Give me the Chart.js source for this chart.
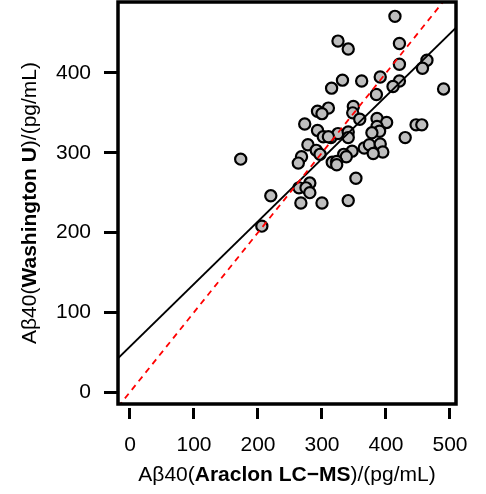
<!DOCTYPE html>
<html lang="en">
  <head>
    <meta charset="UTF-8" />
    <title>Abeta40 Araclon vs Washington U</title>
    <script src="https://cdn.jsdelivr.net/npm/chart.js@4/dist/chart.umd.min.js"></script>
    <style>
      body { margin: 0; background: #ffffff; }
      canvas { display: block; }
    </style>
  </head>
  <body>
    <canvas id="myChart" width="486" height="494"></canvas>
    <script>
      // Araclon LC-MS (x) vs Washington U (y), pg/mL
      var araclon = [
        414, 325, 341, 421, 421, 464, 457, 332, 362, 391,
        315, 421, 411, 385, 490, 310, 293, 300, 349, 348,
        359, 273, 386, 401, 386, 390, 378, 447, 456, 293,
        302, 314, 325, 341, 341, 430, 278, 291, 297, 268,
        263, 366, 374, 391, 395, 380, 347, 334, 338, 316,
        323, 323, 173, 353, 281, 264, 275, 281, 220, 267,
        300, 341, 206, 310
      ];
      var washU = [
        471, 440, 430, 437, 411, 416, 406, 391, 390, 395,
        381, 390, 383, 373, 380, 356, 352, 349, 358, 350,
        342, 336, 343, 338, 333, 327, 325, 335, 335, 328,
        320, 319, 324, 326, 319, 319, 310, 303, 298, 295,
        287, 306, 310, 311, 301, 299, 302, 298, 295, 288,
        289, 285, 292, 268, 262, 256, 256, 250, 246, 237,
        237, 240, 208, 320
      ];
      var xTicks = [0, 100, 200, 300, 400, 500];
      var yTicks = [0, 100, 200, 300, 400];
      // fitted line y = a + b*x, and the identity line
      var fitIntercept = 57;
      var fitSlope = 0.785;

      var xMin = -18.75, xMax = 509.4;
      var yMin = -15, yMax = 489;

      var points = araclon.map(function (v, i) { return { x: v, y: washU[i] }; });
      var fitLine = [xMin, xMax].map(function (v) { return { x: v, y: fitIntercept + fitSlope * v }; });
      var idLine = [xMin, xMax].map(function (v) { return { x: v, y: v }; });

      var FONT = "'Liberation Sans', Arial, sans-serif";
      Chart.defaults.font.family = FONT;
      Chart.defaults.font.size = 21;
      Chart.defaults.color = "#000000";

      // draws the box round the plot and the two axis titles (with bold part)
      var frame = {
        id: "frame",
        afterDraw: function (chart) {
          var c = chart.ctx, a = chart.chartArea;
          c.save();
          c.strokeStyle = "#000";
          c.lineWidth = 3.5;
          c.strokeRect(a.left, a.top, a.right - a.left, a.bottom - a.top);

          function mixed(parts, cx, cy) {
            var w = 0;
            parts.forEach(function (p) {
              c.font = (p[1] ? "bold " : "") + "21px " + FONT;
              w += c.measureText(p[0]).width;
            });
            var x = cx - w / 2;
            parts.forEach(function (p) {
              c.font = (p[1] ? "bold " : "") + "21px " + FONT;
              c.fillText(p[0], x, cy);
              x += c.measureText(p[0]).width;
            });
          }
          c.fillStyle = "#000";
          c.textBaseline = "alphabetic";
          mixed([["A\u03b240(", false], ["Araclon LC\u2212MS", true], [")/(pg/mL)", false]], (a.left + a.right) / 2, 481);
          c.translate(35.5, (a.top + a.bottom) / 2);
          c.rotate(-Math.PI / 2);
          mixed([["A\u03b240(", false], ["Washington U", true], [")/(pg/mL)", false]], 0, 0);
          c.restore();
        },
      };

      new Chart(document.getElementById("myChart"), {
        type: "scatter",
        data: {
          datasets: [
            {
              type: "line",
              data: idLine,
              borderColor: "#ff0000",
              borderWidth: 1.8,
              borderDash: [6, 5],
              pointRadius: 0,
              fill: false,
            },
            {
              type: "line",
              data: fitLine,
              borderColor: "#000000",
              borderWidth: 1.8,
              pointRadius: 0,
              fill: false,
            },
            {
              data: points,
              backgroundColor: "#bebebe",
              borderColor: "#000000",
              borderWidth: 2.2,
              pointRadius: 5.6,
            },
          ],
        },
        options: {
          responsive: false,
          animation: false,
          layout: { autoPadding: false, padding: { top: 2, right: 30, left: 0, bottom: 0 } },
          plugins: { legend: { display: false }, tooltip: { enabled: false } },
          scales: {
            x: {
              type: "linear",
              min: xMin,
              max: xMax,
              afterBuildTicks: function (s) { s.ticks = xTicks.map(function (v) { return { value: v }; }); },
              afterFit: function (s) { s.height = 90; s.paddingLeft = 0; s.paddingRight = 0; },
              ticks: { padding: 14, maxRotation: 0 },
              grid: {
                drawOnChartArea: false,
                tickLength: 15,
                tickWidth: 3,
                tickColor: "#000",
                tickBorderDash: [0, 4, 11, 0],
              },
              border: { display: false },
            },
            y: {
              type: "linear",
              min: yMin,
              max: yMax,
              afterBuildTicks: function (s) { s.ticks = yTicks.map(function (v) { return { value: v }; }); },
              afterFit: function (s) { s.width = 118; s.paddingTop = 0; s.paddingBottom = 0; },
              ticks: { padding: 13 },
              grid: {
                drawOnChartArea: false,
                tickLength: 14,
                tickWidth: 3,
                tickColor: "#000",
              },
              border: { display: false },
            },
          },
        },
        plugins: [frame],
      });
    </script>
  </body>
</html>
